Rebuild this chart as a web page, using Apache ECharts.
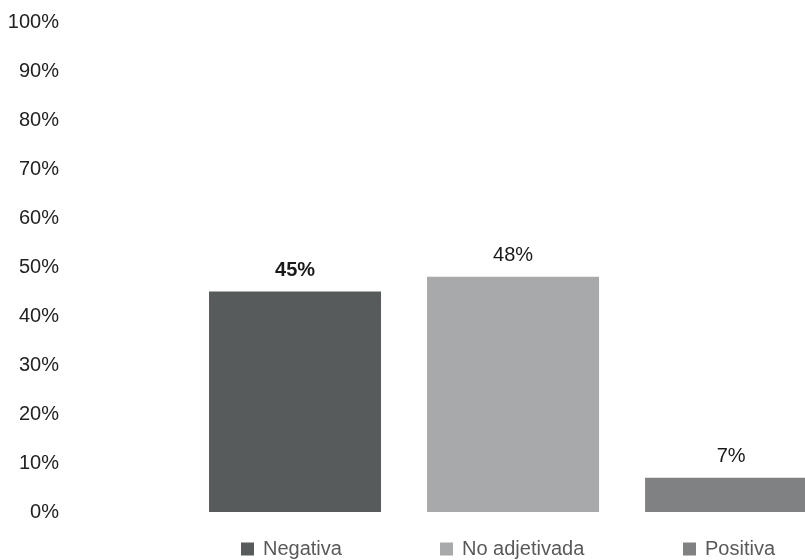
<!DOCTYPE html>
<html><head><meta charset="utf-8">
<script src="https://cdn.jsdelivr.net/npm/echarts@6/dist/echarts.min.js"></script>
<style>html,body{margin:0;padding:0;background:#fff}#c{width:805px;height:560px}</style>
</head><body><div id="c"></div>
<script>
const categories = ["Negativa", "No adjetivada", "Positiva"];
const values = [45, 48, 7];
const labels = ["45%", "48%", "7%"];
const colors = ["#585b5c", "#a7a9aa", "#7f8182"];
const boldLabel = [true, false, false];
const yTicks = [0, 10, 20, 30, 40, 50, 60, 70, 80, 90, 100];

const FONT = "'Liberation Sans', Arial, sans-serif";
const chart = echarts.init(document.getElementById('c'));

// category positions on a value x axis (index i), so the last bar can run past the right edge
const series = categories.map((name, i) => ({
  name: name,
  type: 'bar',
  barWidth: 172,
  barGap: '-100%',
  itemStyle: { color: colors[i] },
  data: [[i, values[i]]],
  label: {
    show: true, position: 'top', distance: 11,
    formatter: () => labels[i],
    fontFamily: FONT, fontSize: 20, color: '#1a1a1a',
    fontWeight: boldLabel[i] ? 'bold' : 'normal'
  }
}));

const legendLefts = [236, 435, 678];
const legends = categories.map((name, i) => ({
  data: [name],
  left: legendLefts[i], top: 534,
  icon: 'rect', itemWidth: 13, itemHeight: 13, itemGap: 0,
  textStyle: { fontFamily: FONT, fontSize: 20, color: '#595959', padding: [0, 0, 0, 4] },
  selectedMode: false
}));

chart.setOption({
  animation: false,
  grid: { left: 186, right: 0, top: 22, bottom: 48 },
  legend: legends,
  xAxis: {
    type: 'value', min: -0.5, max: 2.339,
    axisLine: { show: false }, axisTick: { show: false }, axisLabel: { show: false },
    splitLine: { show: false }
  },
  yAxis: {
    type: 'value', min: 0, max: 100, interval: 10,
    axisLine: { show: false }, axisTick: { show: false }, splitLine: { show: false },
    axisLabel: {
      margin: 127, fontFamily: FONT, fontSize: 20, color: '#222',
      formatter: v => yTicks.includes(v) ? v + '%' : ''
    }
  },
  series: series
});
</script></body></html>
